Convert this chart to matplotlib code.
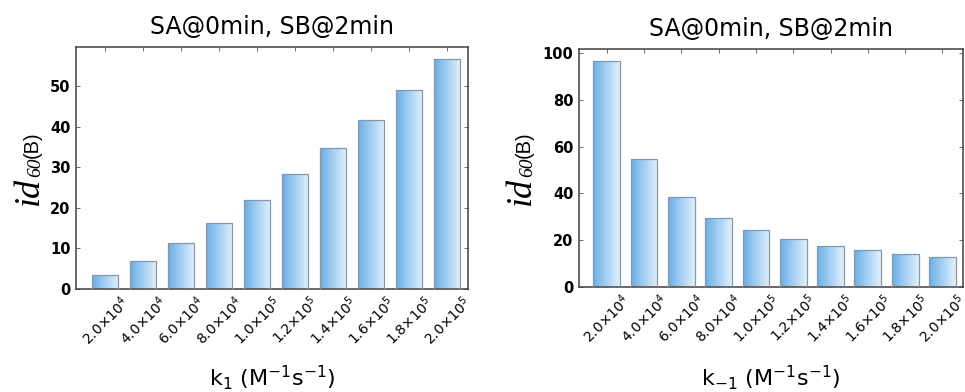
import numpy as np
import matplotlib
matplotlib.use("Agg")
import matplotlib.pyplot as plt
from matplotlib.colors import LinearSegmentedColormap

plt.rcParams['mathtext.fontset'] = 'dejavusans'
plt.rcParams['font.family'] = ['DejaVu Sans']

# ---- data ----
mantissas = ["2.0", "4.0", "6.0", "8.0", "1.0", "1.2", "1.4", "1.6", "1.8", "2.0"]
exponents = [4, 4, 4, 4, 5, 5, 5, 5, 5, 5]
tick_labels = [f"{m}×10$^{{{e}}}$" for m, e in zip(mantissas, exponents)]

k1_values = [3.4, 7.0, 11.3, 16.3, 21.9, 28.2, 34.7, 41.7, 49.1, 56.6]
km1_values = [96.7, 54.9, 38.3, 29.4, 24.2, 20.3, 17.7, 15.7, 14.2, 12.9]

titles = ["SA@0min, SB@2min", "SA@0min, SB@2min"]
xlabels = [r"k$_1$ (M$^{-1}$s$^{-1}$)", r"k$_{-1}$ (M$^{-1}$s$^{-1}$)"]
yticks_list = [np.arange(0, 51, 10), np.arange(0, 101, 20)]
ylims = [(0, 59.6), (0, 101.7)]

W, H = 965, 392
fig = plt.figure(figsize=(W / 100, H / 100), dpi=100)

cmap = LinearSegmentedColormap.from_list("bar", ["#67afe9", "#e2f1fc"])
grad = np.linspace(0, 1, 256).reshape(1, -1)

axes_px = [(76, 47, 468, 289), (579, 49, 963, 287)]
xlims = [(0.237, 10.55), (0.257, 10.55)]
widths = [0.70, 0.72]
ylabel_x = [37.5, 529.5]

for i, values in enumerate([k1_values, km1_values]):
    x0, y0, x1, y1 = axes_px[i]
    ax = fig.add_axes([x0 / W, 1 - y1 / H, (x1 - x0) / W, (y1 - y0) / H])
    pos = np.arange(1, len(values) + 1)
    bars = ax.bar(pos, values, width=widths[i], facecolor='none',
                  edgecolor='#8a96a2', linewidth=0.9, zorder=3)
    for b in bars:
        bx, by = b.get_x(), b.get_y()
        im = ax.imshow(grad, extent=[bx, bx + b.get_width(), by, by + b.get_height()],
                       aspect='auto', cmap=cmap, zorder=2, interpolation='bilinear')
        im.set_clip_path(b)
    ax.set_xlim(*xlims[i])
    ax.set_ylim(*ylims[i])
    ax.set_xticks(pos)
    ax.set_xticklabels(tick_labels, rotation=45, ha='center', va='top', fontsize=10)
    ax.set_yticks(yticks_list[i])
    ax.set_yticklabels([str(v) for v in yticks_list[i]], fontsize=10.5,
                       fontweight='bold')
    ax.tick_params(direction='in', length=3, width=0.6, color='#555555',
                   top=True, right=True, pad=4)
    ax.tick_params(axis='x', pad=3)
    for s in ax.spines.values():
        s.set_color('#404040')
        s.set_linewidth(1.1)
    ax.set_title(titles[i], fontsize=17, pad=9)
    ax.set_xlabel(xlabels[i], fontsize=16)
    ax.xaxis.set_label_coords(0.5, (y1 - 386) / (y1 - y0))
    ax.xaxis.label.set_va('baseline')

    # y label: big italic "id", italic subscript "60", then "(B)"
    bxp = ylabel_x[i]
    t1 = fig.text(bxp / W, 0.5, "id", fontsize=26, family='Liberation Serif',
                  style='italic', rotation=90, rotation_mode='anchor',
                  ha='left', va='baseline')
    t2 = fig.text((bxp + 3) / W, 0.5, "60", fontsize=14, family='Liberation Serif',
                  style='italic', rotation=90, rotation_mode='anchor',
                  ha='left', va='baseline')
    t3 = fig.text(bxp / W, 0.5, "(B)", fontsize=14.5, family='Liberation Sans',
                  rotation=90, rotation_mode='anchor', ha='left', va='baseline')
    fig.canvas.draw()
    r = fig.canvas.get_renderer()
    hs = [t.get_window_extent(r).height for t in (t1, t2, t3)]
    total = sum(hs)
    center = H - (y0 + y1) / 2
    start = center - total / 2
    t1.set_y(start / H)
    t2.set_y((start + hs[0]) / H)
    t3.set_y((start + hs[0] + hs[1]) / H)

fig.savefig("out.png", dpi=100)
